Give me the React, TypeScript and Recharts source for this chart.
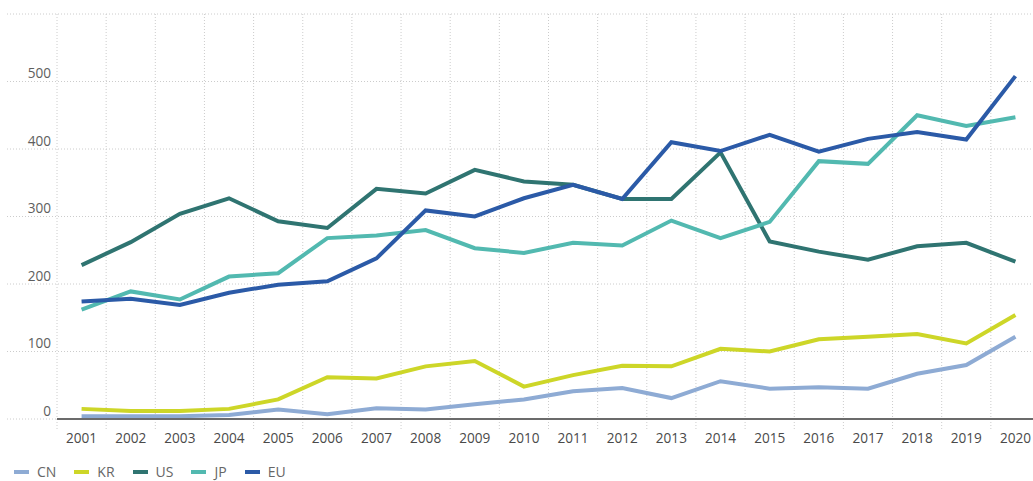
import { CartesianGrid, Line, LineChart, XAxis, YAxis } from 'recharts'

// 연도별 값
const years = ['2001', '2002', '2003', '2004', '2005', '2006', '2007', '2008', '2009', '2010',
  '2011', '2012', '2013', '2014', '2015', '2016', '2017', '2018', '2019', '2020']
const cn = [4, 4, 4, 6, 14, 7, 16, 14, 22, 29, 41, 46, 31, 56, 45, 47, 45, 67, 80, 122]
const kr = [15, 12, 12, 15, 29, 62, 60, 78, 86, 48, 65, 79, 78, 104, 100, 118, 122, 126, 112, 154]
const us = [228, 262, 304, 327, 293, 283, 341, 334, 369, 352, 347, 326, 326, 395, 263, 248, 236, 256, 261, 233]
const jp = [162, 189, 177, 211, 216, 268, 272, 280, 253, 246, 261, 257, 294, 268, 292, 382, 378, 450, 434, 447]
const eu = [174, 178, 169, 187, 199, 204, 238, 309, 300, 327, 347, 326, 410, 397, 421, 396, 415, 425, 414, 508]
const yTicks = [0, 100, 200, 300, 400, 500, 600]

const SERIES = [
  { key: 'CN', values: cn, color: '#8eabd4' },
  { key: 'KR', values: kr, color: '#cdd628' },
  { key: 'US', values: us, color: '#2f7471' },
  { key: 'JP', values: jp, color: '#52b9b0' },
  { key: 'EU', values: eu, color: '#2b5aa7' },
]

const data = years.map((t, i) => {
  const row: Record<string, string | number> = { t }
  SERIES.forEach((s) => { row[s.key] = s.values[i] })
  return row
})

const FONT = '"Open Sans", "Noto Sans", sans-serif'
const FS = 13.6
const gridStroke = '#cccccc'

// y축 라벨은 격자선 위쪽에 얹힌다. 최상단(600)은 라벨 없음.
function YTick({ x, y, payload }: any) {
  if (payload.value === 600) return <g />
  return (
    <text x={x} y={y - 9} textAnchor="end" dominantBaseline="central" fontSize={FS} fill="#5e5e5e">
      {payload.value}
    </text>
  )
}

// 세로 격자선은 카테고리 경계(밴드 사이)에 그린다.
const bandEdges = ({ offset }: any) =>
  Array.from({ length: years.length + 1 }, (_, i) => offset.left + (i * offset.width) / years.length)

export default function App() {
  return (
    <div style={{ position: 'absolute', left: 0, top: 0, width: 1033, height: 481, overflow: 'hidden', background: '#fff', fontFamily: FONT }}>
      <LineChart width={1040} height={481} data={data} margin={{ top: 14, right: 0, bottom: 0, left: 0 }} style={{ fontFamily: FONT }}>
        <CartesianGrid vertical={false} x={7} width={1040} stroke={gridStroke} strokeDasharray="1 2" />
        <CartesianGrid horizontal={false} y={14} height={416} stroke={gridStroke} strokeDasharray="1 2"
          verticalCoordinatesGenerator={bandEdges} />
        <XAxis dataKey="t" scale="band" tickLine={false} tickSize={0} tickMargin={14} height={62}
          axisLine={{ stroke: '#6b6b6b', strokeWidth: 2 }} interval={0}
          tick={{ fontSize: FS, fill: '#4a4a4a' }} />
        <YAxis domain={[0, 600]} ticks={yTicks} width={57} axisLine={false} tickLine={false}
          tickSize={0} tickMargin={6} tick={<YTick />} />
        {SERIES.map((s) => (
          <Line key={s.key} type="linear" dataKey={s.key} stroke={s.color} strokeWidth={4}
            dot={false} activeDot={false} isAnimationActive={false} />
        ))}
      </LineChart>
      <div style={{ position: 'absolute', left: 14, top: 462, display: 'flex', alignItems: 'center', fontSize: 14, color: '#666', lineHeight: '19px' }}>
        {SERIES.map((s) => (
          <div key={s.key} style={{ display: 'flex', alignItems: 'center', marginRight: 18 }}>
            <span style={{ width: 15, height: 4, background: s.color, marginRight: 8 }} />
            {s.key}
          </div>
        ))}
      </div>
    </div>
  )
}
